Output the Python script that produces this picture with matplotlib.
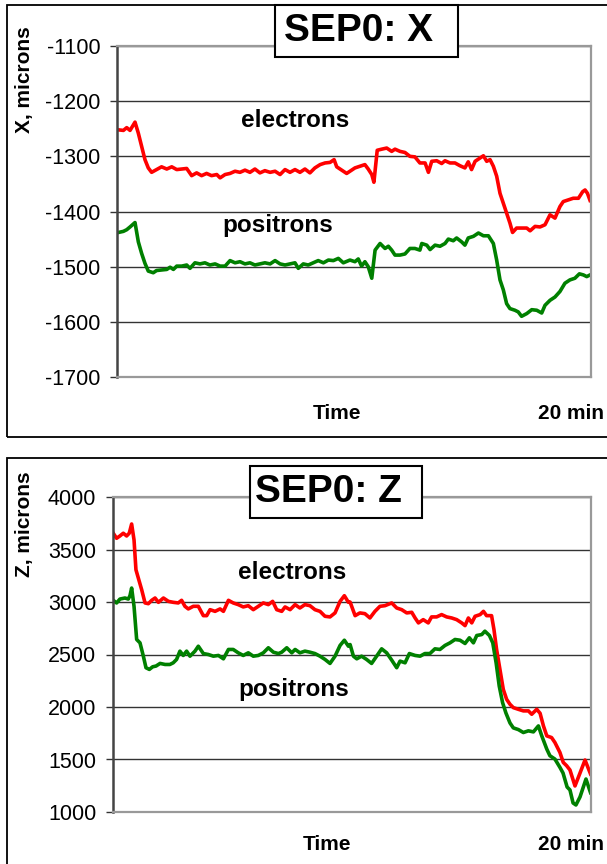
import numpy as np
import matplotlib
matplotlib.use('Agg')
import matplotlib.pyplot as plt
from matplotlib.patches import Rectangle

plt.rcParams['font.family'] = ['Liberation Sans', 'DejaVu Sans']
plt.rcParams['axes.unicode_minus'] = False

# ---- SEP0: X (microns), time in minutes ----
tx_e = [0.06, 0.27, 0.41, 0.55, 0.76, 0.90, 1.04, 1.18, 1.32, 1.46, 1.67, 1.88, 2.10, 2.31, 2.52,
        2.73, 2.94, 3.15, 3.36, 3.57, 3.78, 3.99, 4.21, 4.35, 4.56, 4.77, 4.98, 5.19, 5.40, 5.61,
        5.82, 6.03, 6.24, 6.46, 6.67, 6.88, 7.09, 7.30, 7.51, 7.72, 7.93, 8.14, 8.35, 8.57, 8.78,
        8.99, 9.16, 9.27, 9.48, 9.69,
        9.83, 10.04, 10.25, 10.46, 10.60, 10.75, 10.84, 10.98, 11.17, 11.38, 11.59, 11.73, 11.94,
        12.15, 12.36, 12.57, 12.78, 13.00, 13.14, 13.28, 13.49, 13.70, 13.84, 14.05, 14.26, 14.47,
        14.68, 14.82, 14.96, 15.11, 15.32, 15.46, 15.60, 15.74, 15.88, 16.02, 16.16, 16.30, 16.44,
        16.58, 16.69, 16.86, 17.07, 17.29, 17.43, 17.64, 17.85, 18.06, 18.27, 18.48, 18.69, 18.83,
        19.04, 19.25, 19.47, 19.65, 19.75, 19.85, 19.96]
x_e = [-1252, -1253, -1248, -1253, -1238, -1258, -1282, -1306, -1321, -1329, -1324, -1319, -1323,
       -1319, -1324, -1323, -1322, -1335, -1330, -1335, -1331, -1335, -1333, -1339, -1333, -1331,
       -1327, -1329, -1325, -1329, -1323, -1330, -1326, -1329, -1327, -1333, -1324, -1329, -1324,
       -1329, -1323, -1330, -1321, -1315, -1312, -1311, -1306, -1319, -1325, -1331,
       -1327, -1321, -1318, -1315, -1323, -1333, -1347, -1289, -1287, -1285, -1291, -1287, -1291,
       -1293, -1300, -1301, -1312, -1312, -1329, -1309, -1308, -1313, -1308, -1312, -1312, -1317,
       -1321, -1310, -1324, -1309, -1303, -1299, -1309, -1306, -1318, -1336, -1367, -1385, -1403,
       -1421, -1438, -1430, -1430, -1430, -1435, -1427, -1428, -1424, -1406, -1412, -1391, -1382,
       -1379, -1376, -1376, -1364, -1361, -1367, -1380]

tx_p = [0.06, 0.27, 0.41, 0.55, 0.76, 0.90, 1.04, 1.18, 1.32, 1.53, 1.67, 1.88, 2.10, 2.24, 2.38,
        2.52, 2.73, 2.94, 3.08, 3.29, 3.50, 3.71, 3.92, 4.14, 4.35, 4.56, 4.77, 4.98, 5.19, 5.40,
        5.61, 5.82, 6.03, 6.24, 6.46, 6.67, 6.88, 7.09, 7.30, 7.51, 7.65, 7.86, 8.07, 8.28, 8.49,
        8.71, 8.92, 9.13, 9.34, 9.55,
        9.83, 10.04, 10.18, 10.32, 10.46, 10.60, 10.75, 10.89, 11.10, 11.31, 11.45, 11.59, 11.73,
        11.94, 12.15, 12.36, 12.57, 12.78, 12.86, 13.07, 13.21, 13.42, 13.63, 13.84, 13.98, 14.19,
        14.33, 14.54, 14.68, 14.82, 15.04, 15.25, 15.46, 15.67, 15.88, 16.02, 16.16, 16.30, 16.44,
        16.58, 16.79, 16.93, 17.07, 17.29, 17.50, 17.71, 17.92, 18.06, 18.27, 18.48, 18.69, 18.90,
        19.11, 19.32, 19.51, 19.68, 19.82, 19.96]
x_p = [-1438, -1436, -1433, -1428, -1420, -1455, -1476, -1494, -1508, -1511, -1507, -1506, -1505,
       -1501, -1505, -1499, -1499, -1497, -1503, -1493, -1495, -1493, -1497, -1495, -1499, -1499,
       -1489, -1493, -1491, -1495, -1493, -1497, -1495, -1493, -1495, -1489, -1495, -1497, -1495,
       -1493, -1503, -1495, -1497, -1493, -1489, -1493, -1488, -1489, -1485, -1493,
       -1488, -1491, -1486, -1499, -1491, -1500, -1521, -1470, -1458, -1467, -1463, -1470, -1479,
       -1479, -1477, -1467, -1467, -1470, -1458, -1461, -1469, -1461, -1463, -1458, -1450, -1453,
       -1448, -1455, -1461, -1448, -1445, -1439, -1444, -1444, -1458, -1488, -1524, -1542, -1567,
       -1576, -1579, -1582, -1590, -1585, -1578, -1579, -1584, -1570, -1561, -1555, -1545, -1530,
       -1524, -1521, -1513, -1515, -1518, -1515]

# ---- SEP0: Z (microns) ----
tz_e = [0.01, 0.15, 0.29, 0.43, 0.57, 0.68, 0.78, 0.88, 0.96, 1.10, 1.20, 1.34, 1.48, 1.62, 1.76,
        1.90, 2.11, 2.32, 2.52, 2.73, 2.87, 3.01, 3.15, 3.36, 3.57, 3.78, 3.92, 4.06, 4.27, 4.48,
        4.62, 4.83, 5.03, 5.24, 5.45, 5.66, 5.87, 6.08, 6.29, 6.50, 6.68, 6.85, 7.06, 7.20, 7.41,
        7.62, 7.82, 8.03, 8.24, 8.45, 8.66, 8.87, 9.08, 9.29, 9.50, 9.68, 9.85,
        9.92, 10.13, 10.33, 10.54, 10.75, 10.96, 11.17, 11.38, 11.66, 11.87, 12.08, 12.29, 12.50,
        12.64, 12.78, 12.98, 13.19, 13.33, 13.54, 13.75, 13.96, 14.17, 14.38, 14.59, 14.73, 14.87,
        15.01, 15.15, 15.36, 15.50, 15.63, 15.84, 15.94, 16.05, 16.19, 16.33, 16.47, 16.61, 16.75,
        16.96, 17.17, 17.38, 17.52, 17.73, 17.87, 18.01, 18.15, 18.35, 18.49, 18.70, 18.84, 18.98,
        19.12, 19.33, 19.54, 19.75, 19.98]
z_e = [3655, 3607, 3629, 3655, 3629, 3655, 3743, 3591, 3307, 3196, 3117, 2991, 2984, 3016, 3038,
       2997, 3038, 3006, 2997, 2991, 3016, 2959, 2934, 2959, 2959, 2870, 2870, 2927, 2911, 2934,
       2911, 3016, 2991, 2975, 2953, 2965, 2927, 2959, 2991, 2975, 3006, 2927, 2911, 2953, 2927,
       2975, 2943, 2975, 2965, 2927, 2911, 2864, 2858, 2896, 3006, 3060, 2997,
       3000, 2870, 2896, 2889, 2848, 2911, 2959, 2965, 2991, 2943, 2927, 2896, 2902,
       2848, 2801, 2832, 2801, 2858, 2858, 2880, 2858, 2848, 2832, 2801, 2775, 2848,
       2801, 2864, 2880, 2911, 2870, 2870, 2737, 2548, 2358, 2168, 2073, 2026, 1994,
       1978, 1963, 1963, 1931, 1978, 1940, 1820, 1725, 1709, 1662, 1567, 1472, 1441,
       1400, 1248, 1371, 1495, 1362]

tz_p = [0.01, 0.15, 0.29, 0.50, 0.64, 0.71, 0.78, 0.88, 0.99, 1.13, 1.27, 1.38, 1.52, 1.66, 1.80,
        1.97, 2.18, 2.38, 2.52, 2.66, 2.80, 2.94, 3.08, 3.22, 3.43, 3.57, 3.78, 3.99, 4.20, 4.41,
        4.62, 4.83, 5.03, 5.24, 5.45, 5.66, 5.87, 6.08, 6.29, 6.50, 6.71, 6.92, 7.06, 7.27, 7.48,
        7.62, 7.82, 8.03, 8.24, 8.45, 8.66, 8.87, 9.08, 9.29, 9.50, 9.68, 9.85,
        9.92, 10.06, 10.20, 10.40, 10.61, 10.82, 11.03, 11.24, 11.45, 11.66, 11.87, 12.01, 12.22,
        12.40, 12.64, 12.85, 13.05, 13.26, 13.47, 13.68, 13.89, 14.10, 14.31, 14.52, 14.73, 14.91,
        15.08, 15.22, 15.43, 15.56, 15.75, 15.89, 16.03, 16.16, 16.30, 16.44, 16.61, 16.75, 16.96,
        17.17, 17.38, 17.59, 17.80, 17.94, 18.15, 18.28, 18.49, 18.70, 18.83, 19.00, 19.12, 19.25,
        19.37, 19.54, 19.79, 19.98]
z_p = [3016, 2991, 3028, 3038, 3028, 3060, 3133, 2959, 2643, 2611, 2484, 2374, 2358, 2383, 2390,
       2415, 2405, 2405, 2421, 2453, 2532, 2491, 2532, 2484, 2532, 2579, 2509, 2500, 2484, 2491,
       2459, 2548, 2548, 2516, 2491, 2516, 2484, 2491, 2516, 2564, 2522, 2509, 2522, 2564, 2516,
       2548, 2516, 2532, 2522, 2509, 2484, 2453, 2415, 2484, 2586, 2636, 2579,
       2595, 2484, 2459, 2484, 2453, 2415, 2484, 2554, 2516, 2447, 2374, 2437, 2421,
       2509, 2491, 2484, 2509, 2509, 2554, 2548, 2586, 2611, 2643, 2636, 2605, 2659,
       2611, 2681, 2690, 2722, 2681, 2611, 2421, 2200, 2042, 1943, 1848, 1801, 1785,
       1757, 1773, 1763, 1820, 1725, 1599, 1536, 1504, 1425, 1371, 1238, 1210, 1086,
       1067, 1143, 1314, 1184]

W, H = 607, 864
fig = plt.figure(figsize=(W / 100, H / 100), dpi=100)


def fx(px):
    return px / W


def fy(py):
    return 1 - py / H


def panel(box, ylim, yticks, t_e, v_e, t_p, v_p, title, title_box, ylabel, ylabel_y,
          e_pos, p_pos, label_y, time_x):
    left, top, right, bottom = box
    ax = fig.add_axes([fx(left), fy(bottom), fx(right - left), (bottom - top) / H])
    ax.plot(t_e, v_e, color='#ff0000', lw=2.6, solid_joinstyle='round')
    ax.plot(t_p, v_p, color='#008000', lw=2.6, solid_joinstyle='round')
    ax.set_xlim(0, 20)
    ax.set_ylim(*ylim)
    ax.set_yticks(yticks)
    ax.set_xticks([])
    ax.yaxis.grid(True, color='#333333', lw=1.0)
    ax.tick_params(axis='y', direction='out', length=5, width=1, color='#333333',
                   labelsize=15.5, pad=7)
    ax.spines['left'].set_color('#444444')
    ax.spines['left'].set_linewidth(1.8)
    for s in ['right', 'bottom', 'top']:
        ax.spines[s].set_color('#999999')
        ax.spines[s].set_linewidth(1.6)
    ax.text(e_pos[0], e_pos[1], 'electrons', transform=ax.transAxes, ha='center', va='center',
            fontsize=17.5, fontweight='bold')
    ax.text(p_pos[0], p_pos[1], 'positrons', transform=ax.transAxes, ha='center', va='center',
            fontsize=17.5, fontweight='bold')

    # title box, text sits a little left of centre
    bl, bt, br, bb = title_box
    fig.patches.append(Rectangle((fx(bl), fy(bb)), fx(br - bl), (bb - bt) / H,
                                 transform=fig.transFigure, facecolor='white',
                                 edgecolor='black', lw=1.5, zorder=5))
    fig.text(fx((bl + br) / 2 - 8), fy((bt + bb) / 2), title, ha='center', va='center',
             fontsize=28, fontweight='bold', zorder=6)

    fig.text(fx(25), fy(ylabel_y), ylabel, rotation=90, ha='center', va='center',
             fontsize=15, fontweight='bold')
    fig.text(fx(time_x), fy(label_y), 'Time', ha='center', va='center',
             fontsize=15, fontweight='bold')
    fig.text(fx(571), fy(label_y), '20 min', ha='center', va='center',
             fontsize=15, fontweight='bold')
    return ax


# outer frames of the two chart objects
fig.patches.append(Rectangle((fx(7), fy(437)), 1.0, (437 - 5) / H, transform=fig.transFigure,
                             fill=False, edgecolor='black', lw=1.3))
fig.patches.append(Rectangle((fx(7), -0.02), 1.0, fy(458) + 0.02, transform=fig.transFigure,
                             fill=False, edgecolor='black', lw=1.3))

panel((117, 46, 591, 377), (-1700, -1100), np.arange(-1700, -1099, 100),
      tx_e, x_e, tx_p, x_p, 'SEP0: X', (275, 5, 458, 57), 'X, microns', 80,
      (0.376, 0.776), (0.340, 0.459), 413, 337)
panel((113, 497, 591, 812), (1000, 4000), np.arange(1000, 4001, 500),
      tz_e, z_e, tz_p, z_p, 'SEP0: Z', (250, 466, 422, 518), 'Z, microns', 524,
      (0.3745, 0.759), (0.379, 0.390), 845, 327)

plt.savefig('out.png', dpi=100)
